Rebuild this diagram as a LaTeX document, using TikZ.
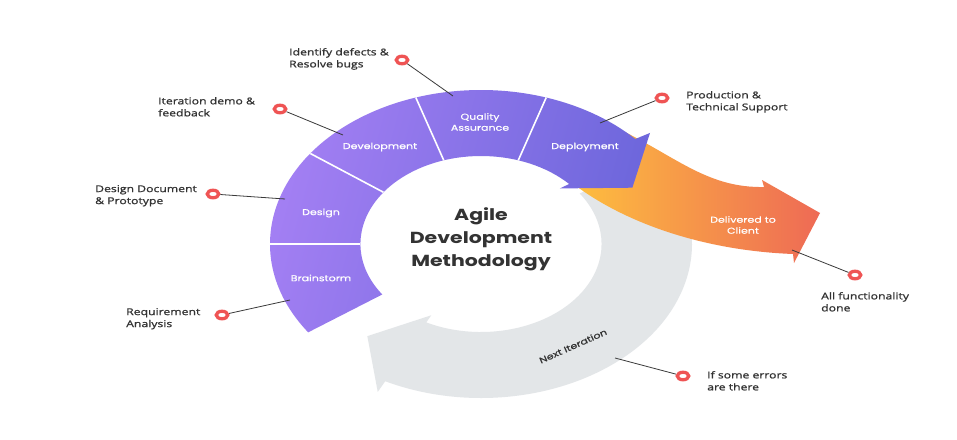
\documentclass[tikz,border=0pt]{standalone}
\usepackage{fontspec}
\usepackage{xcolor}
\setmainfont{Open Sans}
\newfontfamily\ringfont{Poppins}[FakeStretch=1.3,FakeBold=0.6]
\newfontfamily\titlefont{Poppins}[FakeStretch=1.28]
\newfontfamily\notefont{Open Sans}[FakeStretch=1.3,FakeBold=1.2]
\usetikzlibrary{shapes.geometric}

\definecolor{ringlight}{HTML}{A781F5}
\definecolor{ringdark}{HTML}{6C66DB}
\definecolor{loopgray}{HTML}{E3E6E8}
\definecolor{deliverlight}{HTML}{FEC13E}
\definecolor{delivermid}{HTML}{F59B4A}
\definecolor{deliverdark}{HTML}{EE6A55}
\definecolor{markred}{HTML}{EF5454}
\definecolor{notegray}{HTML}{333333}
\definecolor{linegray}{HTML}{3A3A3A}

\begin{document}
\begin{tikzpicture}[
    x=1pt, y=-1pt,
    seglabel/.style={font=\ringfont\fontsize{8.5}{11}\selectfont,text=white,
                     align=center,inner sep=0pt},
    title/.style={font=\titlefont\bfseries\fontsize{16}{23}\selectfont,
                  text=notegray,align=center,inner sep=0pt},
    note/.style={font=\notefont\fontsize{9.4}{12}\selectfont,text=notegray,
                 align=left,anchor=north west,inner sep=0pt},
    marker/.style={ellipse,draw=markred,line width=3.3pt,fill=white,
                   minimum width=11.5pt,minimum height=7.5pt,inner sep=0pt},
    pointer/.style={draw=linegray,line width=0.8pt},
  ]
  \useasboundingbox[fill=white] (0,0) rectangle (957,439);

  % --- next iteration loop (grey, behind everything) ---
  \begin{scope}[shift={(481,244)},xscale=1.37]
    \fill[loopgray] (35:154pt) arc[start angle=35,end angle=-117,radius=154pt]
      -- (-117:166pt) -- (-132:124pt) -- (-117:80pt) -- (-117:88pt)
      arc[start angle=-117,end angle=35,radius=88pt] -- cycle;
  \end{scope}

  % --- delivery arrow leaving the ring ---
  \path[left color=deliverlight,middle color=delivermid,right color=deliverdark]
    (625,132) .. controls (680,160) and (710,188) .. (764,187)
    -- (762,180) -- (820,213) -- (794,263) -- (793,254)
    .. controls (690,250) and (610,215) .. (566,178) -- cycle;

  % --- purple phase ring with arrow head ---
  \begin{scope}[shift={(481,244)},xscale=1.37]
    \path[left color=ringlight,right color=ringdark,shading angle=75]
      (215:154pt) arc[start angle=215,end angle=43,radius=154pt]
      -- (42:166pt) -- (27:124pt) -- (44:80pt) -- (43:88pt)
      arc[start angle=43,end angle=215,radius=88pt] -- cycle;
    \foreach \a in {180,144,108,72}
      \draw[white,line width=1.6pt] (\a:88pt) -- (\a:154pt);
  \end{scope}

  % --- phase labels ---
  \node[seglabel] (brainstorm) at (321,278) {Brainstorm};
  \node[seglabel] (design)     at (321,213) {Design};
  \node[seglabel] (develop)    at (380,147) {Development};
  \node[seglabel] (qa)         at (480,122) {Quality\\Assurance};
  \node[seglabel] (deploy)     at (585,147) {Deployment};
  \node[seglabel] (deliver)    at (743,225) {Delivered to\\Client};
  \node[seglabel,text=notegray,rotate=24] (next) at (573,346) {Next Iteration};

  \node[title] (agile) at (481,239) {Agile\\Development\\Methodology};

  % --- pointer ends on the ring ---
  \coordinate (pQA)      at (453,96);
  \coordinate (pDev)     at (343,135);
  \coordinate (pDesign)  at (285,199);
  \coordinate (pBrain)   at (290,300);
  \coordinate (pDeploy)  at (600,123);
  \coordinate (pDeliver) at (792,250);
  \coordinate (pNext)    at (615,358);

  % --- markers ---
  \node[marker] (mQA)      at (402,60)  {};
  \node[marker] (mDev)     at (280,109) {};
  \node[marker] (mDesign)  at (213,194) {};
  \node[marker] (mBrain)   at (222,315) {};
  \node[marker] (mDeploy)  at (662,98)  {};
  \node[marker] (mDeliver) at (855,275) {};
  \node[marker] (mNext)    at (683,376) {};

  \draw[pointer] (mQA) -- (pQA);
  \draw[pointer] (mDev) -- (pDev);
  \draw[pointer] (mDesign) -- (pDesign);
  \draw[pointer] (mBrain) -- (pBrain);
  \draw[pointer] (mDeploy) -- (pDeploy);
  \draw[pointer] (mDeliver) -- (pDeliver);
  \draw[pointer] (mNext) -- (pNext);

  % --- notes ---
  \node[note] (nQA)      at (289,48)  {Identify defects \&\\Resolve bugs};
  \node[note] (nDev)     at (158,97)  {Iteration demo \&\\feedback};
  \node[note] (nDesign)  at (95,185)  {Design Document\\\& Prototype};
  \node[note] (nBrain)   at (126,308) {Requirement\\Analysis};
  \node[note] (nDeploy)  at (686,91)  {Production \&\\Technical Support};
  \node[note] (nDeliver) at (821,292) {All functionality\\done};
  \node[note] (nNext)    at (707,371) {If some errors\\are there};
\end{tikzpicture}
\end{document}
